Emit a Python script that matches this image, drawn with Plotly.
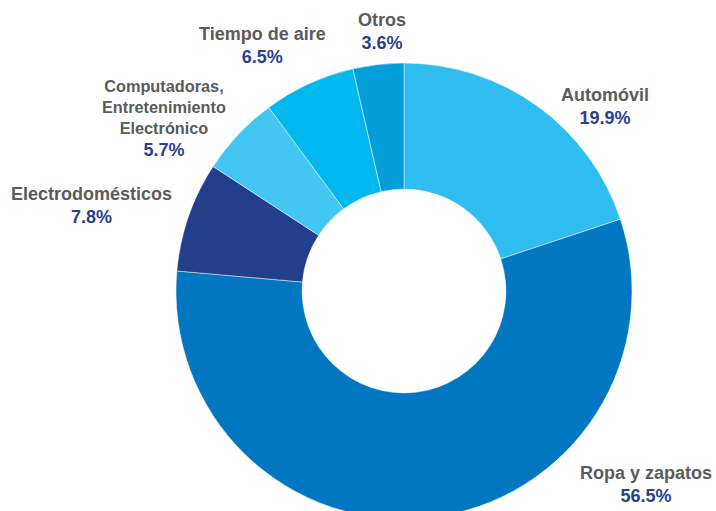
import plotly.graph_objects as go

# Share of spending by category (%)
categories = ["Automóvil", "Ropa y zapatos", "Electrodomésticos",
              "Computadoras,<br>Entretenimiento<br>Electrónico",
              "Tiempo de aire", "Otros"]
shares = [19.9, 56.5, 7.8, 5.7, 6.5, 3.6]
slice_colors = ["#30BEF0", "#0077C0", "#233F8B", "#43C6F2", "#00B7EE", "#049FDA"]

W, H = 716, 530
NAME_COLOR = "#5A5B5C"
PCT_COLOR = "#2A3F8F"
FONT = "Liberation Sans, Arial, sans-serif"

# Label anchor points (pixels from top-left) and name font sizes, one per category
label_px = [(605, 106.5), (646, 484), (91, 205), (164, 118.5), (262, 45.5), (382, 31.5)]
name_sizes = [18, 18, 18, 16.3, 18, 18]

fig = go.Figure(go.Pie(
    labels=[c.replace("<br>", " ") for c in categories],
    values=shares,
    sort=False,
    direction="clockwise",
    rotation=0,
    hole=0.447,
    marker=dict(colors=slice_colors, line=dict(color="rgba(255,255,255,0.6)", width=0.8)),
    textinfo="none",
    hoverinfo="label+percent",
    showlegend=False,
    domain=dict(x=[176 / W, 632 / W], y=[(H - 519) / H, (H - 63) / H]),
))

for name, val, (px, py), fs in zip(categories, shares, label_px, name_sizes):
    fig.add_annotation(
        x=px / W, y=1 - py / H, xref="paper", yref="paper",
        xanchor="center", yanchor="middle", showarrow=False, align="center",
        text=(f"<b>{name}</b><br><b><span style='color:{PCT_COLOR};font-size:18px'>"
              f"{val:.1f}%</span></b>"),
        font=dict(family=FONT, size=fs, color=NAME_COLOR),
    )

fig.update_layout(
    width=W, height=H,
    margin=dict(l=0, r=0, t=0, b=0),
    paper_bgcolor="white",
    plot_bgcolor="white",
)

fig.write_html("out.html", post_script="document.body.style.overflow='hidden';document.body.style.margin='0';")
